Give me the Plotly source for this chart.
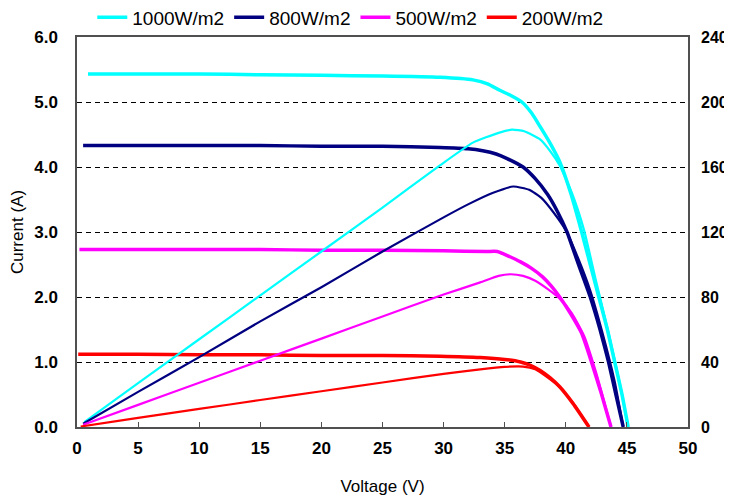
import plotly.graph_objects as go

# ---- I-V curves (Voltage V, Current A) ----
v_i_1000 = [0.9, 5, 10, 15, 20, 25, 29.7, 32.4, 33.6, 34.6, 35.5, 36.4, 37.2, 37.9, 38.7, 39.5, 40.4, 41.3, 42.0, 42.7, 43.4, 44.0, 44.6, 45.1]
i_1000   = [5.43, 5.43, 5.43, 5.42, 5.41, 5.40, 5.38, 5.34, 5.28, 5.18, 5.10, 5.00, 4.83, 4.62, 4.37, 4.08, 3.60, 3.00, 2.50, 2.00, 1.50, 1.00, 0.50, 0.00]

v_i_800 = [0.5, 5, 10, 15, 20, 25, 29.7, 32.0, 33.2, 34.3, 35.2, 36.5, 37.5, 38.5, 39.3, 40.1, 41.0, 42.0, 42.8, 43.5, 44.1, 44.7]
i_800   = [4.33, 4.33, 4.33, 4.33, 4.32, 4.32, 4.30, 4.28, 4.25, 4.20, 4.13, 4.00, 3.82, 3.58, 3.32, 3.00, 2.52, 2.00, 1.50, 1.00, 0.50, 0.00]

v_i_500 = [0.2, 5, 10, 15, 20, 25, 30, 33.5, 34.4, 35.3, 36.3, 37.2, 38.1, 38.8, 39.5, 40.4, 41.3, 42.1, 42.9, 43.7]
i_500   = [2.73, 2.73, 2.73, 2.73, 2.72, 2.72, 2.71, 2.70, 2.70, 2.63, 2.54, 2.44, 2.31, 2.17, 2.00, 1.74, 1.44, 1.00, 0.52, 0.00]

v_i_200 = [0.1, 5, 10, 15, 20, 25, 29.7, 33, 35.0, 36.3, 37.1, 37.9, 38.7, 39.5, 40.6, 41.9]
i_200   = [1.12, 1.12, 1.11, 1.11, 1.10, 1.10, 1.09, 1.07, 1.04, 1.00, 0.95, 0.87, 0.76, 0.62, 0.36, 0.00]

# ---- P-V curves (Voltage V, Power W) ----
v_p_1000 = [0.6, 5, 10, 15, 20, 25, 29.7, 32.4, 34.5, 35.6, 36.6, 37.9, 38.7, 39.5, 40.5, 41.5, 42.5, 43.5, 44.5, 45.1]
p_1000   = [3, 27, 54, 81, 108, 135, 161, 175, 181, 183, 182, 177, 170, 161, 144, 121, 89, 58, 24, 0]

v_p_800 = [0.5, 5, 10, 15, 20, 25, 30, 32, 34, 35.7, 37, 38, 39, 40, 41, 42, 43, 44, 44.7]
p_800   = [2, 21.6, 43, 65, 86, 108, 129, 137, 144, 148, 146, 141, 132, 121, 104, 84, 58, 28, 0]

v_p_500 = [0.5, 5, 10, 15, 20, 25, 30, 33, 34.5, 35.5, 36.5, 37.5, 38.5, 39.5, 40.5, 41.5, 42.5, 43.2, 43.7]
p_500   = [1.4, 13.6, 27.2, 40.8, 54.4, 68, 81.5, 89, 93, 94, 93, 90, 85, 79, 70, 56, 33, 14, 0]

v_p_200 = [0.3, 5, 10, 15, 20, 25, 30, 33, 35, 36.5, 37.5, 38.5, 39.5, 40.6, 41.9]
p_200   = [0.3, 5.6, 11.1, 16.6, 22, 27.4, 32.7, 35.5, 37, 37.2, 35.5, 30.5, 24.5, 14.6, 0]

names  = ["1000W/m2", "800W/m2", "500W/m2", "200W/m2"]
colors = ["#00FFFF", "#000080", "#FF00FF", "#FF0000"]

x_ticks = list(range(0, 55, 5))
y_ticks = [0, 1, 2, 3, 4, 5, 6]
y2_ticks = [0, 40, 80, 120, 160, 200, 240]

iv = [(v_i_1000, i_1000), (v_i_800, i_800), (v_i_500, i_500), (v_i_200, i_200)]
pv = [(v_p_1000, p_1000), (v_p_800, p_800), (v_p_500, p_500), (v_p_200, p_200)]

fig = go.Figure()
for (vx, iy), name, c in zip(iv, names, colors):
    fig.add_trace(go.Scatter(x=vx, y=iy, mode="lines", name=name,
                             line=dict(color=c, width=3.5, shape="spline", smoothing=0.5)))
for (vx, py), name, c in zip(pv, names, colors):
    fig.add_trace(go.Scatter(x=vx, y=py, mode="lines", name=name, showlegend=False,
                             yaxis="y2",
                             line=dict(color=c, width=2.2, shape="spline", smoothing=0.5)))

tickfont = dict(family="Liberation Sans, Arial, sans-serif", size=17, color="black", weight="bold")
tickfont2 = dict(family="Liberation Sans, Arial, sans-serif", size=16, color="black", weight="bold")

fig.update_layout(
    width=724, height=488,
    margin=dict(l=68.5, r=44, t=29, b=69.3, autoexpand=False),
    paper_bgcolor="white", plot_bgcolor="white",
    font=dict(family="Liberation Sans, Arial, sans-serif", color="black"),
    showlegend=True,
    legend=dict(orientation="h", x=0.025, xanchor="left", y=1.05, yanchor="middle",
                font=dict(size=19, color="black"), bgcolor="rgba(0,0,0,0)",
                itemwidth=30, tracegroupgap=0),
    xaxis=dict(range=[0, 50], tickvals=x_ticks, ticktext=[str(t) for t in x_ticks],
               showgrid=False, zeroline=False, automargin=False,
               showline=True, linecolor="#505050", linewidth=1.5, mirror=True,
               ticks="inside", ticklen=5, tickcolor="#505050", tickwidth=1,
               ticklabelstandoff=5, tickfont=tickfont,
               title=dict(text="Voltage (V)", font=dict(size=17), standoff=28)),
    yaxis=dict(range=[0, 6], tickvals=y_ticks, ticktext=[f"{t:.1f}" for t in y_ticks],
               showgrid=True, gridcolor="black", gridwidth=1.3, griddash="5px,4px",
               zeroline=False, automargin=False,
               showline=True, linecolor="#505050", linewidth=1.5, mirror=True,
               ticks="", ticklabelstandoff=14, tickfont=tickfont,
               title=dict(text="Current (A)", font=dict(size=17), standoff=10)),
    yaxis2=dict(range=[0, 240], tickvals=y2_ticks, ticktext=[str(t) for t in y2_ticks],
                overlaying="y", side="right", showgrid=False, zeroline=False, automargin=False,
                showline=False, ticks="", ticklabelstandoff=12, tickfont=tickfont2),
)

fig.write_html("out.html")
